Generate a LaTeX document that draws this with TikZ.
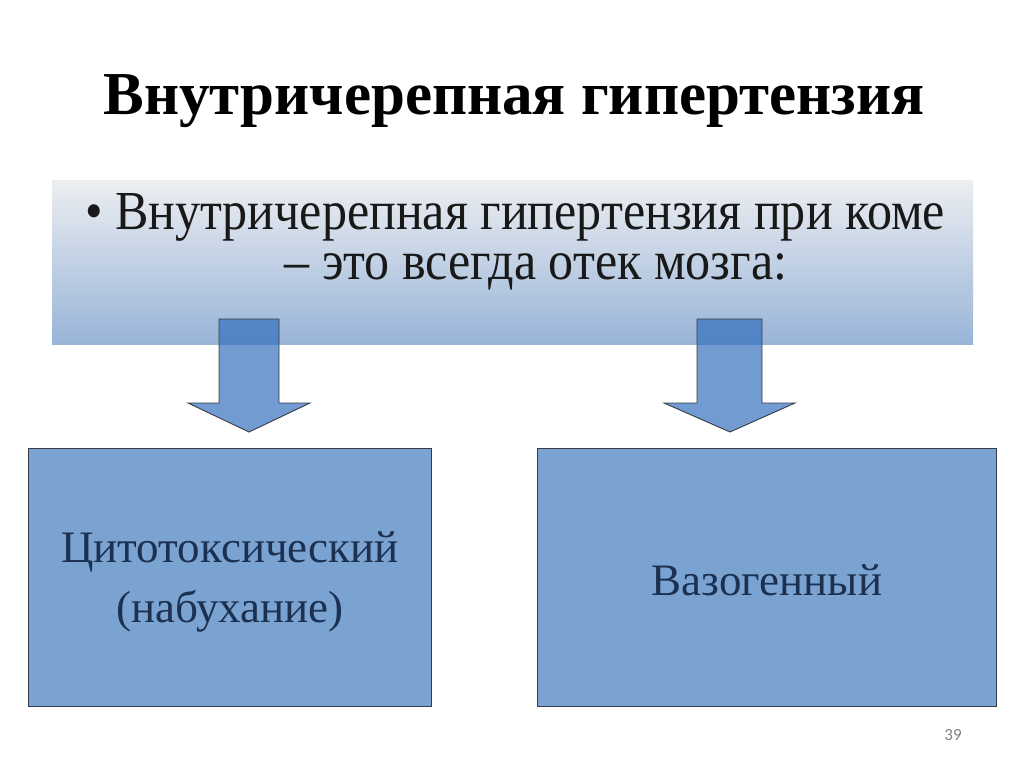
\documentclass[tikz,border=0pt]{standalone}
\usepackage{fontspec}
\setmainfont{Liberation Serif}
\newfontfamily\condensed[FakeStretch=0.91]{Liberation Serif}
\newfontfamily\pgnum{Carlito}
\usetikzlibrary{calc}
\definecolor{boxblue}{RGB}{123,163,210}
\definecolor{boxline}{RGB}{55,60,70}
\definecolor{arrowblue}{RGB}{52,112,190}
\definecolor{gradtop}{RGB}{236,238,241}
\definecolor{gradbot}{RGB}{152,180,216}
\definecolor{navytext}{RGB}{28,48,80}
\definecolor{bodytext}{RGB}{25,25,25}
\tikzset{
  lowerbox/.style={draw=boxline, line width=0.9pt, fill=boxblue, anchor=north west, inner sep=0pt},
  boxtext/.style={text=navytext, align=center, font=\fontsize{45}{60}\selectfont},
  bodyline/.style={text=bodytext, inner sep=0pt, font=\condensed\fontsize{55}{50}\selectfont},
  blockarrow/.style={draw=boxline, line width=0.9pt, fill=arrowblue, fill opacity=0.7, line join=miter},
}
\begin{document}
\begin{tikzpicture}[x=1pt,y=-1pt]
\useasboundingbox (0,0) rectangle (1024,768);
% title
\node[font=\bfseries\fontsize{61}{70}\selectfont, text=black] (title) at (514,101) {Внутричерепная гипертензия};
% top gradient box
\node[anchor=north west, minimum width=921pt, minimum height=164pt, inner sep=0pt,
      top color=gradtop, bottom color=gradbot] (top) at (52,180) {};
\node[bodyline, anchor=base west] (line1) at (85,229) {• Внутричерепная гипертензия при коме};
\node[bodyline, anchor=base] (line2) at (536,279) {– это всегда отек мозга:};
% lower boxes
\node[lowerbox, minimum width=403pt, minimum height=258pt] (left) at (28,448) {};
\node[lowerbox, minimum width=459pt, minimum height=258pt] (right) at (537,448) {};
\node[boxtext] (lefttext) at (230,582) {Цитотоксический\\(набухание)};
\node[boxtext] (righttext) at (767,580) {Вазогенный};
% block arrows
\draw[blockarrow] (219,319) -- (279,319) -- (279,403) -- (310,403) -- (249,432) -- (188,403) -- (219,403) -- cycle;
\draw[blockarrow] (697,319) -- (762,319) -- (762,403) -- (795,403) -- (730,432) -- (664,403) -- (697,403) -- cycle;
% page number
\node[text=gray, font=\pgnum\fontsize{17}{19}\selectfont] (pg) at (953,735) {39};
\end{tikzpicture}
\end{document}
